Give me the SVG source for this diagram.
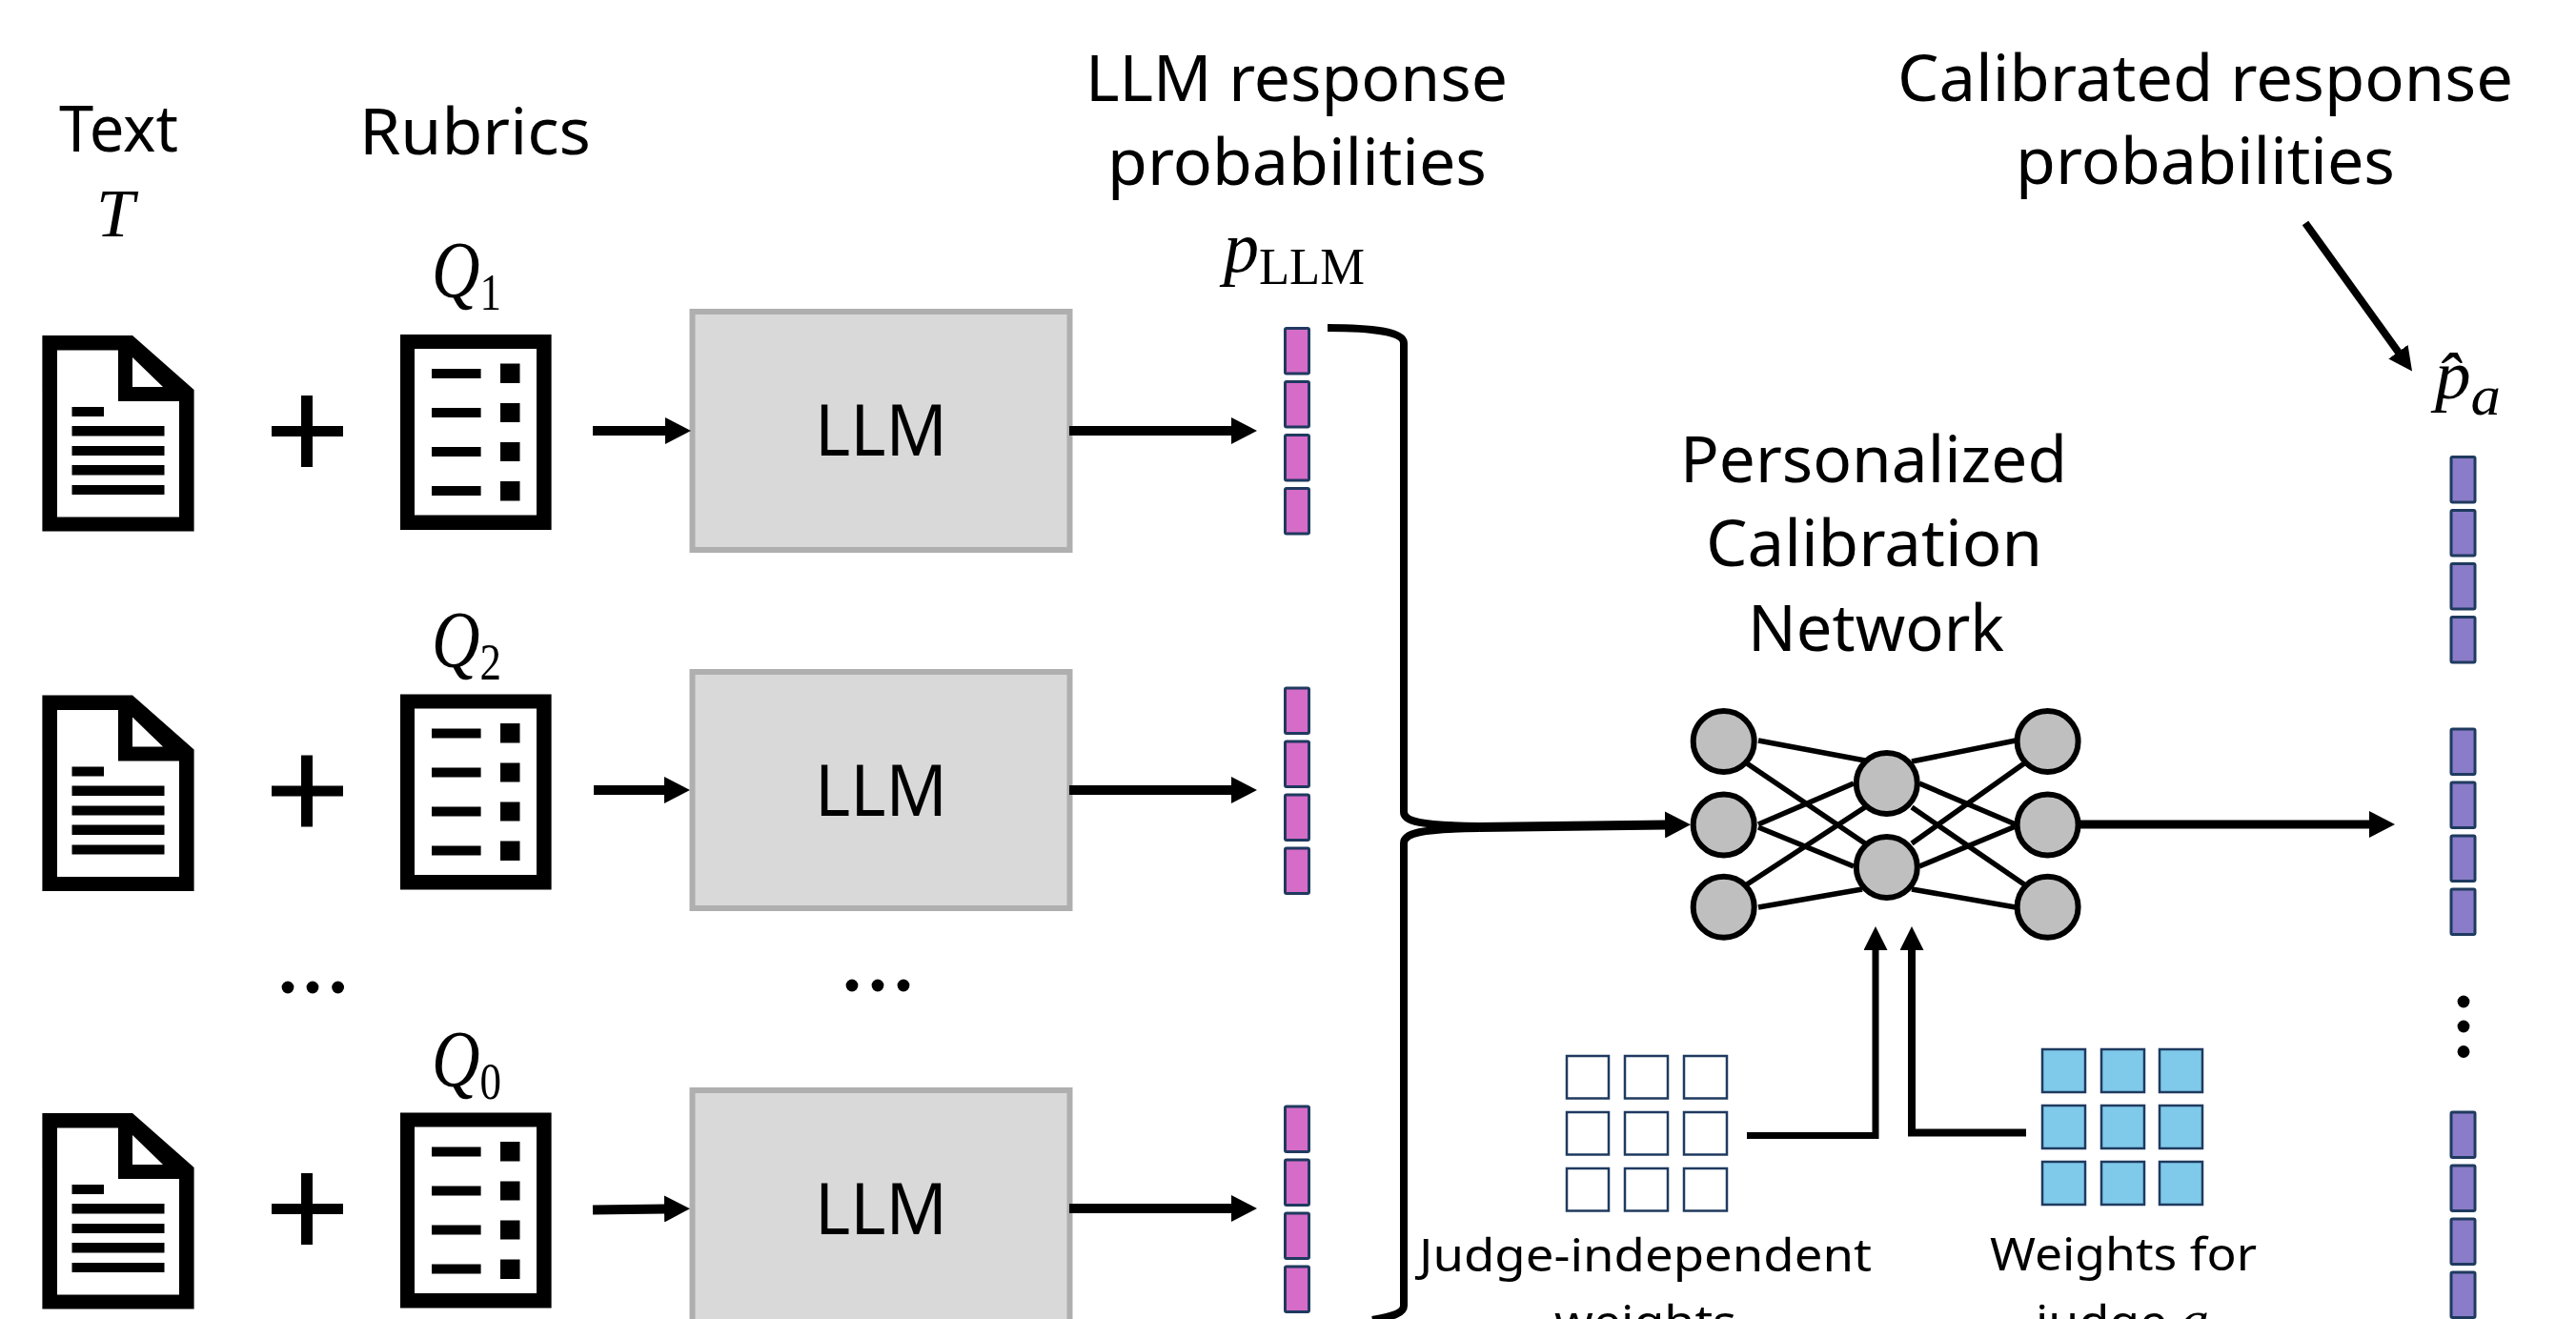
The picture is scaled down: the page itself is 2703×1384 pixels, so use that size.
<svg xmlns="http://www.w3.org/2000/svg" xmlns:xlink="http://www.w3.org/1999/xlink" width="2703" height="1384" viewBox="0 0 2703 1384">
<style>
text{fill:#000}
.s{font-family:"Noto Sans","Liberation Sans",sans-serif}
.l{font-size:67px}
.m{font-size:48px}
.b{font-size:74px}
.q{font-family:"Liberation Serif",serif;font-style:italic}
.q tspan.n{font-style:normal}
.llm{fill:#d9d9d9;stroke:#afafaf;stroke-width:6}
.pb{fill:#d56cc8;stroke:#1f3a5f;stroke-width:3}
.vb{fill:#8a7cc8;stroke:#1f3a5f;stroke-width:3}
.wc{fill:#fff;stroke:#1f3a5f;stroke-width:2.5}
.bc{fill:#7fc9ea;stroke:#1f3a5f;stroke-width:2.5}
.nn{fill:#bfbfbf;stroke:#000;stroke-width:6}
.e{stroke:#000;stroke-width:5.5;fill:none}
.c{stroke:#000;fill:none}
</style>
<defs>
<marker id="ah" markerUnits="userSpaceOnUse" markerWidth="28" markerHeight="28" viewBox="0 0 28 28" refX="1" refY="14" orient="auto"><path d="M0,0L27,14L0,28Z"/></marker>
<marker id="au" markerUnits="userSpaceOnUse" markerWidth="26" markerHeight="25" viewBox="0 0 26 25" refX="1" refY="12.5" orient="auto"><path d="M0,0L25,12.5L0,25Z"/></marker>
<g id="doc">
<path d="M44.4,352H139L203.6,409V557.5H44.4Z"/>
<path fill="#fff" d="M60,367.5H124V421H188V542.5H60Z"/>
<path fill="#fff" d="M139,375V406H171Z"/>
<path d="M75.5,427H109V437H75.5ZM75.5,447H172.5V457.5H75.5ZM75.5,468H172.5V478H75.5ZM75.5,488H172.5V498.5H75.5ZM75.5,509H172.5V519H75.5Z"/>
</g>
<g id="rub">
<rect x="420" y="351" width="158.6" height="205"/>
<rect x="435" y="366" width="128" height="174.5" fill="#fff"/>
<path d="M453,387H504.6V397H453ZM453,428H504.6V438H453ZM453,469H504.6V479H453ZM453,510H504.6V520H453ZM525,381.5H545.5V402H525ZM525,423H545.5V443H525ZM525,464H545.5V484H525ZM525,505H545.5V525.5H525Z"/>
</g>
<path id="plus" d="M285,447H316V415H328V447H360V458H328V490H316V458H285Z"/>
<g id="pbar">
<rect class="pb" x="1348.5" y="344.5" width="25" height="47.5" rx="1.5"/>
<rect class="pb" x="1348.5" y="400.5" width="25" height="47.5" rx="1.5"/>
<rect class="pb" x="1348.5" y="456.5" width="25" height="47.5" rx="1.5"/>
<rect class="pb" x="1348.5" y="512.5" width="25" height="47.5" rx="1.5"/>
</g>
<g id="vbar">
<rect class="vb" x="2572" y="479.5" width="25" height="47.5" rx="1.5"/>
<rect class="vb" x="2572" y="535.5" width="25" height="47.5" rx="1.5"/>
<rect class="vb" x="2572" y="591.5" width="25" height="47.5" rx="1.5"/>
<rect class="vb" x="2572" y="647.5" width="25" height="47.5" rx="1.5"/>
</g>
</defs>
<rect width="2703" height="1384" fill="#fff"/>

<g id="text-1"><use href="#doc"/><text class="q" x="101" y="248" font-size="72" textLength="40" lengthAdjust="spacingAndGlyphs">T</text><text class="s l" x="62" y="159" textLength="125" lengthAdjust="spacingAndGlyphs">Text</text></g>
<g id="plus-1"><use href="#plus"/></g>
<g id="rubric-1"><use href="#rub"/><text class="s l" x="377" y="162" textLength="243" lengthAdjust="spacingAndGlyphs">Rubrics</text><text class="q" x="453" y="312" font-size="84" textLength="73" lengthAdjust="spacingAndGlyphs">Q<tspan class="n" font-size="54" dy="13">1</tspan></text></g>
<g id="llm-1"><rect class="llm" x="726.5" y="327" width="396" height="250"/><text class="s b" x="855" y="478" textLength="139" lengthAdjust="spacingAndGlyphs">LLM</text></g>
<g id="probs-1"><use href="#pbar"/></g>

<g id="text-2"><use href="#doc" y="377.5"/></g>
<g id="plus-2"><use href="#plus" y="377.5"/></g>
<g id="rubric-2"><use href="#rub" y="377.5"/><text class="q" x="453" y="700" font-size="84" textLength="73" lengthAdjust="spacingAndGlyphs">Q<tspan class="n" font-size="54" dy="13">2</tspan></text></g>
<g id="llm-2"><rect class="llm" x="726.5" y="705" width="396" height="248"/><text class="s b" x="855" y="855.5" textLength="139" lengthAdjust="spacingAndGlyphs">LLM</text></g>
<g id="probs-2"><use href="#pbar" y="377.5"/></g>

<g id="ellipsis-1"><circle cx="302" cy="1036" r="6.4"/><circle cx="328" cy="1036" r="6.4"/><circle cx="354.6" cy="1036" r="6.4"/></g>
<g id="ellipsis-2"><circle cx="894" cy="1034" r="6.4"/><circle cx="921" cy="1034" r="6.4"/><circle cx="948" cy="1034" r="6.4"/></g>

<g id="text-3"><use href="#doc" y="816"/></g>
<g id="plus-3"><use href="#plus" y="816"/></g>
<g id="rubric-3"><use href="#rub" y="816.5"/><text class="q" x="453" y="1140" font-size="84" textLength="73" lengthAdjust="spacingAndGlyphs">Q<tspan class="n" font-size="54" dy="13">0</tspan></text></g>
<g id="llm-3"><rect class="llm" x="726.5" y="1144" width="396" height="250"/><text class="s b" x="855" y="1295" textLength="139" lengthAdjust="spacingAndGlyphs">LLM</text></g>
<g id="probs-3"><use href="#pbar" y="816.5"/></g>

<g id="connectors">
<path class="c" stroke-width="10" marker-end="url(#ah)" d="M622,452H699"/>
<path class="c" stroke-width="10" marker-end="url(#ah)" d="M623,829H698"/>
<path class="c" stroke-width="10" marker-end="url(#ah)" d="M622,1269.5L698,1268.5"/>
<path class="c" stroke-width="10" marker-end="url(#ah)" d="M1122,452H1293"/>
<path class="c" stroke-width="10" marker-end="url(#ah)" d="M1122,829H1293"/>
<path class="c" stroke-width="10" marker-end="url(#ah)" d="M1122,1268H1293"/>
<path class="c" stroke-width="8" d="M1393,344C1440,344 1473,348 1473,360V852C1473,862 1490,866 1552,867"/>
<path class="c" stroke-width="8" d="M1440,1385C1462,1381 1473,1378 1473,1370V885C1473,874 1490,870 1552,869"/>
<path class="c" stroke-width="10" marker-end="url(#ah)" d="M1552,868L1748,865.5"/>
<path class="c" stroke-width="9" marker-end="url(#ah)" d="M2180,865H2487"/>
<path class="c" stroke-width="8" marker-end="url(#au)" d="M2419,234L2517,370"/>
<path class="c" stroke-width="7" marker-end="url(#au)" d="M1833,1191.5H1968V996"/>
<path class="c" stroke-width="8" marker-end="url(#au)" d="M2126,1188.5H2006V996"/>
</g>

<g id="llm-label">
<text class="s l" x="1139" y="106" textLength="443" lengthAdjust="spacingAndGlyphs">LLM response</text>
<text class="s l" x="1162" y="194" textLength="398" lengthAdjust="spacingAndGlyphs">probabilities</text>
<text class="q" x="1284" y="285" font-size="76" textLength="148" lengthAdjust="spacingAndGlyphs">p<tspan class="n" font-size="54" dy="13">LLM</tspan></text>
</g>

<g id="calibrated-label">
<text class="s l" x="1991" y="106" textLength="646" lengthAdjust="spacingAndGlyphs">Calibrated response</text>
<text class="s l" x="2115" y="193" textLength="398" lengthAdjust="spacingAndGlyphs">probabilities</text>
<text class="q" x="2555" y="418" font-size="72" textLength="69" lengthAdjust="spacingAndGlyphs">p̂<tspan font-size="60" dy="17">a</tspan></text>
</g>

<g id="network">
<text class="s l" x="1763" y="506" textLength="406" lengthAdjust="spacingAndGlyphs">Personalized</text>
<text class="s l" x="1790" y="594" textLength="353" lengthAdjust="spacingAndGlyphs">Calibration</text>
<text class="s l" x="1834" y="683" textLength="269" lengthAdjust="spacingAndGlyphs">Network</text>
<g class="edges">
<line class="e" x1="1845" y1="777" x2="1957" y2="798"/>
<line class="e" x1="1833" y1="801" x2="1957" y2="885"/>
<line class="e" x1="1845" y1="865" x2="1945" y2="822"/>
<line class="e" x1="1845" y1="868" x2="1945" y2="909"/>
<line class="e" x1="1833" y1="928" x2="1957" y2="847"/>
<line class="e" x1="1845" y1="952" x2="1954" y2="933"/>
<line class="e" x1="2006" y1="799" x2="2115" y2="777"/>
<line class="e" x1="2014" y1="822" x2="2115" y2="865"/>
<line class="e" x1="2006" y1="847" x2="2124" y2="928"/>
<line class="e" x1="2006" y1="885" x2="2124" y2="801"/>
<line class="e" x1="2014" y1="909" x2="2115" y2="867"/>
<line class="e" x1="2006" y1="933" x2="2115" y2="952"/>
</g>
<circle class="nn" cx="1808.7" cy="778" r="32"/>
<circle class="nn" cx="1808.7" cy="865.4" r="32"/>
<circle class="nn" cx="1808.7" cy="951.7" r="32"/>
<circle class="nn" cx="1979.8" cy="822" r="32"/>
<circle class="nn" cx="1979.8" cy="910" r="32"/>
<circle class="nn" cx="2148.6" cy="778" r="32"/>
<circle class="nn" cx="2148.6" cy="865.4" r="32"/>
<circle class="nn" cx="2148.6" cy="951.7" r="32"/>
</g>

<g id="judge-independent">
<rect class="wc" x="1644" y="1108" width="44" height="44.5"/><rect class="wc" x="1705" y="1108" width="45" height="44.5"/><rect class="wc" x="1767" y="1108" width="45" height="44.5"/>
<rect class="wc" x="1644" y="1167" width="44" height="44.5"/><rect class="wc" x="1705" y="1167" width="45" height="44.5"/><rect class="wc" x="1767" y="1167" width="45" height="44.5"/>
<rect class="wc" x="1644" y="1226" width="44" height="44.5"/><rect class="wc" x="1705" y="1226" width="45" height="44.5"/><rect class="wc" x="1767" y="1226" width="45" height="44.5"/>
<text class="s m" x="1489" y="1334" textLength="475" lengthAdjust="spacingAndGlyphs">Judge-independent</text>
<text class="s m" x="1631" y="1404" textLength="191" lengthAdjust="spacingAndGlyphs">weights</text>
</g>

<g id="judge-weights">
<rect class="bc" x="2143" y="1101" width="45" height="45"/><rect class="bc" x="2205" y="1101" width="45" height="45"/><rect class="bc" x="2266" y="1101" width="45" height="45"/>
<rect class="bc" x="2143" y="1160" width="45" height="45"/><rect class="bc" x="2205" y="1160" width="45" height="45"/><rect class="bc" x="2266" y="1160" width="45" height="45"/>
<rect class="bc" x="2143" y="1219" width="45" height="45"/><rect class="bc" x="2205" y="1219" width="45" height="45"/><rect class="bc" x="2266" y="1219" width="45" height="45"/>
<text class="s m" x="2088" y="1333" textLength="280" lengthAdjust="spacingAndGlyphs">Weights for</text>
<text class="s m" x="2136" y="1404" textLength="182" lengthAdjust="spacingAndGlyphs">judge <tspan font-family="Liberation Serif" font-style="italic" font-size="56">a</tspan></text>
</g>

<g id="calibrated-output">
<use href="#vbar"/>
<use href="#vbar" y="285.5"/>
<circle cx="2585" cy="1051" r="6.4"/><circle cx="2585" cy="1077" r="6.4"/><circle cx="2585" cy="1103.5" r="6.4"/>
<use href="#vbar" y="687.5"/>
</g>
</svg>
